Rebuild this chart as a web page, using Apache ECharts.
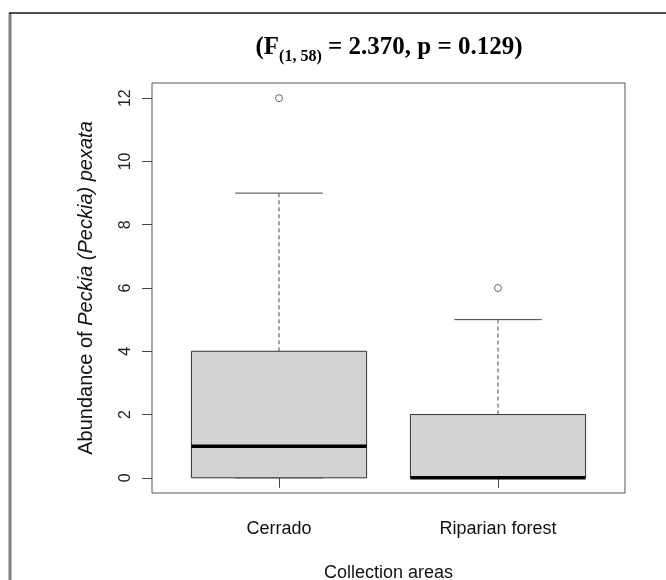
<!DOCTYPE html>
<html>
<head>
<meta charset="utf-8">
<script src="https://cdn.jsdelivr.net/npm/echarts@6/dist/echarts.min.js"></script>
<style>
  html, body { margin: 0; padding: 0; background: #fff; }
</style>
</head>
<body>
<div id="boxChart" style="width: 666px;height: 580px;"></div>
<script>
// data
var areas = ['Cerrado', 'Riparian forest'];
var whiskerLow = [0, 0];
var lowerQuartile = [0, 0];
var medians = [1, 0];
var upperQuartile = [4, 2];
var whiskerHigh = [9, 5];
var outliers = [[12], [6]];
var yTicks = [0, 2, 4, 6, 8, 10, 12];
var xTicks = [1, 2];

var chartDom = document.getElementById('boxChart');
var myChart = echarts.init(chartDom);
var option;

var boxData = areas.map(function (name, i) {
  return [i + 1, whiskerLow[i], lowerQuartile[i], medians[i], upperQuartile[i], whiskerHigh[i]];
});
var outlierData = [];
outliers.forEach(function (list, i) {
  list.forEach(function (v) { outlierData.push([i + 1, v]); });
});

// R style box: grey fill, thick median, dashed whiskers
function renderBox(params, api) {
  var x = api.value(0);
  var bw = api.size([0.8, 0])[0];
  var cw = bw / 2;
  var pLow = api.coord([x, api.value(1)]);
  var pQ1 = api.coord([x, api.value(2)]);
  var pMed = api.coord([x, api.value(3)]);
  var pQ3 = api.coord([x, api.value(4)]);
  var pHigh = api.coord([x, api.value(5)]);
  var cx = pQ1[0];
  var dash = {stroke: '#444', lineWidth: 1, lineDash: [4, 3]};
  var solid = {stroke: '#444', lineWidth: 1};
  return {
    type: 'group',
    children: [
      {type: 'line', shape: {x1: cx, y1: pQ3[1], x2: cx, y2: pHigh[1]}, style: dash},
      {type: 'line', shape: {x1: cx - cw / 2, y1: pHigh[1], x2: cx + cw / 2, y2: pHigh[1]}, style: solid},
      {type: 'line', shape: {x1: cx, y1: pQ1[1], x2: cx, y2: pLow[1]}, style: dash},
      {type: 'line', shape: {x1: cx - cw / 2, y1: pLow[1], x2: cx + cw / 2, y2: pLow[1]}, style: solid},
      {
        type: 'rect',
        shape: {x: cx - bw / 2, y: pQ3[1], width: bw, height: pQ1[1] - pQ3[1]},
        style: {fill: '#d3d3d3', stroke: '#333', lineWidth: 1}
      },
      {type: 'line', shape: {x1: cx - bw / 2, y1: pMed[1], x2: cx + bw / 2, y2: pMed[1]}, style: {stroke: '#000', lineWidth: 3.5}}
    ]
  };
}

option = {
  animation: false,
  grid: {
    left: 152, right: 41, top: 83, bottom: 87,
    outerBoundsMode: 'none',
    containLabel: false,
    show: true, borderColor: '#555', borderWidth: 1
  },
  graphic: [
    {type: 'line', shape: {x1: 10, y1: 13, x2: 10, y2: 580}, style: {stroke: '#808080', lineWidth: 3}},
    {type: 'line', shape: {x1: 9, y1: 13, x2: 666, y2: 13}, style: {stroke: '#111', lineWidth: 1.5}},
    {
      type: 'text',
      x: 389, y: 48,
      style: {
        text: '{m|(F}{s|(1, 58)}{m| = 2.370, p = 0.129)}',
        align: 'center',
        verticalAlign: 'middle',
        rich: {
          m: {fontFamily: 'Liberation Serif', fontWeight: 'bold', fontSize: 25, lineHeight: 34, color: '#000'},
          s: {fontFamily: 'Liberation Serif', fontWeight: 'bold', fontSize: 16, lineHeight: 14, verticalAlign: 'bottom', color: '#000'}
        }
      }
    }
  ],
  xAxis: {
    type: 'value',
    min: 0.42,
    max: 2.58,
    name: 'Collection areas',
    nameLocation: 'middle',
    nameGap: 71,
    nameTextStyle: {fontFamily: 'Liberation Sans', fontSize: 18, color: '#111'},
    axisLine: {show: false},
    splitLine: {show: false},
    axisTick: {show: true, length: 10, customValues: xTicks, lineStyle: {color: '#444'}},
    axisLabel: {
      customValues: xTicks,
      margin: 27,
      fontFamily: 'Liberation Sans', fontSize: 18, color: '#111',
      formatter: function (v) { return areas[v - 1]; }
    }
  },
  yAxis: {
    type: 'value',
    min: -0.48,
    max: 12.48,
    name: 'Abundance of {i|Peckia (Peckia) pexata}',
    nameLocation: 'middle',
    nameRotate: 90,
    nameGap: 56,
    nameTextStyle: {
      fontFamily: 'Liberation Sans', fontSize: 20, color: '#111',
      rich: {i: {fontFamily: 'Liberation Sans', fontSize: 20, fontStyle: 'italic', color: '#111'}}
    },
    axisLine: {show: false},
    splitLine: {show: false},
    axisTick: {show: true, length: 10, customValues: yTicks, lineStyle: {color: '#444'}},
    axisLabel: {
      customValues: yTicks,
      rotate: 90,
      margin: 18,
      fontFamily: 'Liberation Sans', fontSize: 16, color: '#222'
    }
  },
  series: [
    {
      name: 'box',
      type: 'custom',
      renderItem: renderBox,
      data: boxData,
      z: 2
    },
    {
      name: 'outliers',
      type: 'scatter',
      data: outlierData,
      symbol: 'circle',
      symbolSize: 7,
      itemStyle: {color: '#fff', borderColor: '#444', borderWidth: 1},
      z: 3
    }
  ]
};

myChart.setOption(option);
</script>
</body>
</html>
